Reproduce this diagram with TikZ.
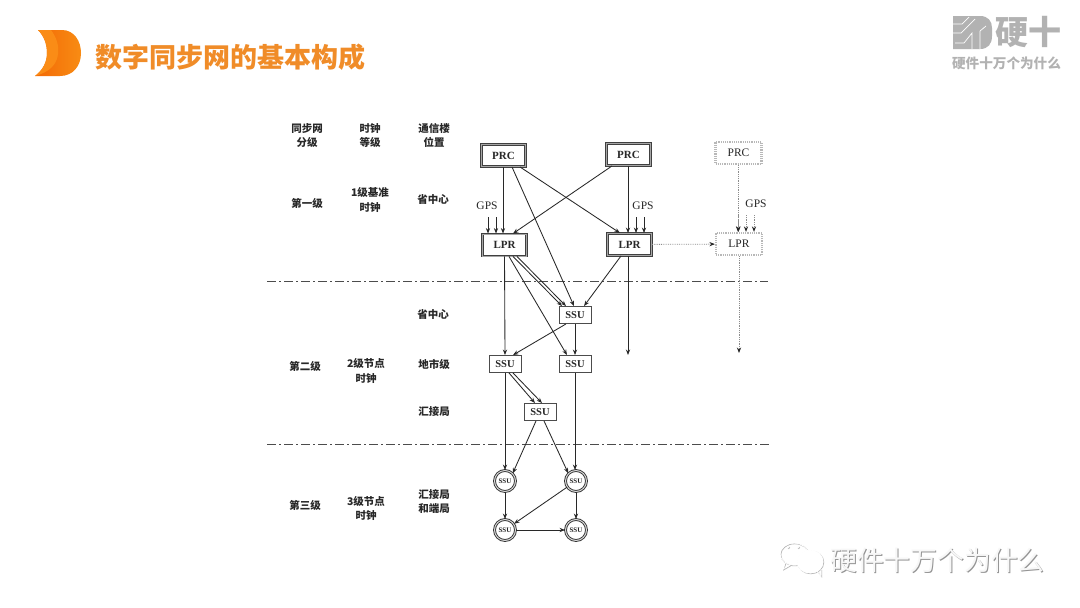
\documentclass[tikz,border=0pt]{standalone}
\usepackage{fontspec}
\setmainfont{Liberation Serif}
\newfontfamily\cjk{Noto Sans CJK SC}
\usepackage{xcolor}
\usetikzlibrary{arrows.meta}
\definecolor{colTitle}{RGB}{240,140,40}
\definecolor{colInk}{RGB}{40,40,40}
\definecolor{colLogo}{RGB}{178,178,178}
\definecolor{colFlameA}{RGB}{250,140,22}
\definecolor{colFlameB}{RGB}{243,105,5}
\definecolor{colFlameC}{RGB}{248,140,20}
\newcommand{\pxfont}[1]{\fontsize{#1}{#1}\selectfont}
\tikzset{
  lnk/.style={->, colInk, line width=0.85pt},
  faint/.style={-{Stealth[length=5.5pt,width=4.2pt,colInk]}, black!45, line width=0.8pt, densely dotted},
  level/.style={colInk, font=\cjk\bfseries\pxfont{10.5}, align=center, inner sep=0pt},
  gpslabel/.style={colInk, font=\pxfont{11.5}, inner sep=0pt},
  mainbox/.style={draw=black!75, double=black!35, double distance=1pt, line width=0.9pt, fill=white,
    minimum width=44pt, minimum height=22pt, inner sep=0pt, font=\bfseries\pxfont{11}, text=colInk},
  ghostbox/.style={draw=black!28, dash pattern=on 1.2pt off 1pt, line width=2.2pt, fill=white,
    minimum width=46pt, minimum height=22pt, inner sep=0pt, font=\pxfont{11.5}, text=colInk},
  ssubox/.style={draw=black!70, line width=0.9pt, fill=white,
    minimum width=32pt, minimum height=17pt, inner sep=0pt, font=\bfseries\pxfont{10.5}, text=colInk},
  ssuring/.style={circle, draw=black!80, double=black!15, double distance=1pt, line width=0.9pt, fill=white,
    minimum size=21pt, inner sep=0pt, font=\bfseries\pxfont{7}, text=colInk},
  split/.style={black!70, line width=0.8pt, dash pattern=on 9pt off 3pt on 2pt off 3pt},
}
\begin{document}
\begin{tikzpicture}[>={Stealth[length=5.5pt,width=4.2pt]}, x=1pt, y=-1pt]

\useasboundingbox (0,0) rectangle (1080,608);
\fill[white] (0,0) rectangle (1080,608);

% Logo and title
\shade[left color=colFlameB, middle color=colFlameB, right color=colFlameC, shading angle=90]
  (38,30) -- (62,30) .. controls (74,30) and (81,41) .. (81,53)
  .. controls (81,66) and (73,76) .. (60,76) -- (35,76)
  .. controls (43,70) and (47,62) .. (47,53) .. controls (47,44) and (44,36) .. (38,30) -- cycle;
\fill[colFlameA]
  (38,30) -- (51,30) .. controls (57,38) and (59,46) .. (58,54)
  .. controls (57,64) and (50,72) .. (35,76)
  .. controls (43,70) and (47,62) .. (47,53) .. controls (47,44) and (44,36) .. (38,30) -- cycle;
\node[colTitle, font=\cjk\bfseries\pxfont{27}, inner sep=0pt] (title) at (230.5,57) {数字同步网的基本构成};

% Brand mark
\fill[colLogo] (953,16) -- (980,16) .. controls (988,16) and (992,21) .. (992,28)
  -- (992,36) .. controls (992,44) and (988,49) .. (980,49) -- (953,49) -- cycle;
\draw[white, line width=0.7pt] (953,24) -- (962,24) -- (969,17)
  (953,33) -- (961,33) -- (975,19) (955,43) -- (964,43) -- (972,33) -- (972,49)
  (980,49) -- (980,31) -- (986,26);
\node[colLogo, font=\cjk\bfseries\pxfont{33}, inner sep=0pt] (brand) at (1028,32) {硬十};
\node[colLogo, font=\cjk\bfseries\pxfont{13.6}, inner sep=0pt] (slogan) at (1006.5,63) {硬件十万个为什么};

% Column heads and levels
\foreach \x/\y/\lab in {307/135.5/{同步网\\[4pt]分级}, 370/135.5/{时钟\\[4pt]等级}, 434/135.5/{通信楼\\[4pt]位置},
    307/203/{第一级}, 370/200/{1级基准\\[4pt]时钟}, 433/200/{省中心},
    433/315/{省中心}, 305/366/{第二级}, 366/371/{2级节点\\[4pt]时钟}, 434/364/{地市级}, 434/412/{汇接局},
    305/505/{第三级}, 366/508.5/{3级节点\\[4pt]时钟}, 434/501.5/{汇接局\\[4pt]和端局}} {
    \node[level] (lbl\x-\y) at (\x,\y) {\lab};
}

% Split lines
\draw[split] (267,281) -- (768,281);
\draw[split] (267,444) -- (770,444);

% Clock nodes
\node[mainbox] (prcA) at (503.5,155.5) {PRC};
\node[mainbox] (prcB) at (628.5,154.5) {PRC};
\node[ghostbox] (prcC) at (738.5,153) {PRC};
\node[mainbox] (lprA) at (504.5,245) {LPR};
\node[mainbox] (lprB) at (629.5,244.5) {LPR};
\node[ghostbox] (lprC) at (739,244) {LPR};
\node[ssubox] (ssuM) at (575,315) {SSU};
\node[ssubox] (ssuL) at (505,364) {SSU};
\node[ssubox] (ssuR) at (575,364) {SSU};
\node[ssubox] (ssuT) at (540,412) {SSU};
\node[ssuring] (ringA) at (505,481) {SSU};
\node[ssuring] (ringB) at (576,481) {SSU};
\node[ssuring] (ringC) at (505,530) {SSU};
\node[ssuring] (ringD) at (576,530) {SSU};

% GPS inputs
\node[gpslabel] (gpsA) at (487,206) {GPS};
\node[gpslabel] (gpsB) at (643,206) {GPS};
\node[gpslabel] (gpsC) at (756,204) {GPS};
\foreach \n/\x in {1/488, 2/496} {
    \coordinate (inA\n) at (\x,217);
    \draw[lnk] (inA\n) -- (inA\n |- lprA.north);
}
\foreach \n/\x in {1/636, 2/644} {
    \coordinate (inB\n) at (\x,217);
    \draw[lnk] (inB\n) -- (inB\n |- lprB.north);
}
\foreach \n/\x in {1/738, 2/746, 3/754} {
    \coordinate (inC\n) at (\x,215);
    \draw[faint] (inC\n) -- (inC\n |- lprC.north);
}

% Upper links
\draw[lnk] ([xshift=-0.5pt]prcA.south) -- ([xshift=-1.5pt]lprA.north);
\draw[lnk] ([xshift=8.5pt]prcA.south) -- ([xshift=-1pt]ssuM.north);
\draw[lnk] ([xshift=16.5pt]prcA.south) -- ([xshift=-9.5pt]lprB.north);
\draw[lnk] ([xshift=-16.5pt]prcB.south) -- ([xshift=8.5pt]lprA.north);
\draw[lnk] ([xshift=-0.5pt]prcB.south) -- ([xshift=-1.5pt]lprB.north);

% Ghost links
\coordinate (endC) at (739,353);
\draw[faint] (prcC) -- (prcC |- lprC.north);
\draw[faint] (lprB) -- (lprC);
\draw[faint] (lprC) -- (endC);

% Second level links
\coordinate (endB) at (628,355);
\draw[lnk] (lprA.south) -- (ssuL.north);
\draw[lnk] ([xshift=4.5pt]lprA.south) -- ([xshift=-8pt]ssuR.north);
\draw[lnk] ([xshift=8.5pt]lprA.south) -- ([xshift=-13pt]ssuM.north);
\draw[lnk] ([xshift=12.5pt]lprA.south) -- ([xshift=-9pt]ssuM.north);
\draw[lnk] ([xshift=-8.5pt]lprB.south) -- ([xshift=9pt]ssuM.north);
\draw[lnk] ([xshift=-1.5pt]lprB.south) -- (endB);
\draw[lnk] ([xshift=-9pt]ssuM.south) -- ([xshift=8pt]ssuL.north);
\draw[lnk] (ssuM) -- (ssuR);
\draw[lnk] ([xshift=4pt]ssuL.south) -- ([xshift=-5pt]ssuT.north);
\draw[lnk] ([xshift=8pt]ssuL.south) -- ([xshift=2pt]ssuT.north);

% Third level links
\draw[lnk] (ssuL) -- (ringA);
\draw[lnk] (ssuR) -- (ssuR |- ringB.north);
\draw[lnk] ([xshift=-4pt]ssuT.south) -- (ringA.north east);
\draw[lnk] ([xshift=4pt]ssuT.south) -- (ringB.north west);
\draw[lnk] (ringA) -- (ringC);
\draw[lnk] (ringB) -- (ringD);
\draw[lnk] (ringB) -- (ringC);
\draw[lnk] (ringC) -- (ringD);

% Watermark
\foreach \dx/\col in {0.8/black!28, 0/white} {
    \begin{scope}[shift={(\dx,\dx)}]
    \draw[\col, line width=0.8pt] (794,554) ellipse (14 and 11);
    \draw[\col, line width=0.8pt] (785,563) -- (783,569) -- (790,565);
    \draw[\col, line width=0.8pt, fill=white] (810,561.5) ellipse (13 and 11.5);
    \draw[\col, line width=0.8pt] (817,571) -- (821,576) -- (821,569);
    \fill[\col] (788,547) circle (1.3) (798,547) circle (1.3) (805,559) circle (1.1) (815,559) circle (1.1);
    \end{scope}
}
\node[black!42, font=\cjk\pxfont{26.8}, inner sep=0pt] (markB) at (938.4,560.9) {硬件十万个为什么};
\node[black!3, font=\cjk\pxfont{26.8}, inner sep=0pt] (markA) at (937.5,560) {硬件十万个为什么};

\end{tikzpicture}
\end{document}
